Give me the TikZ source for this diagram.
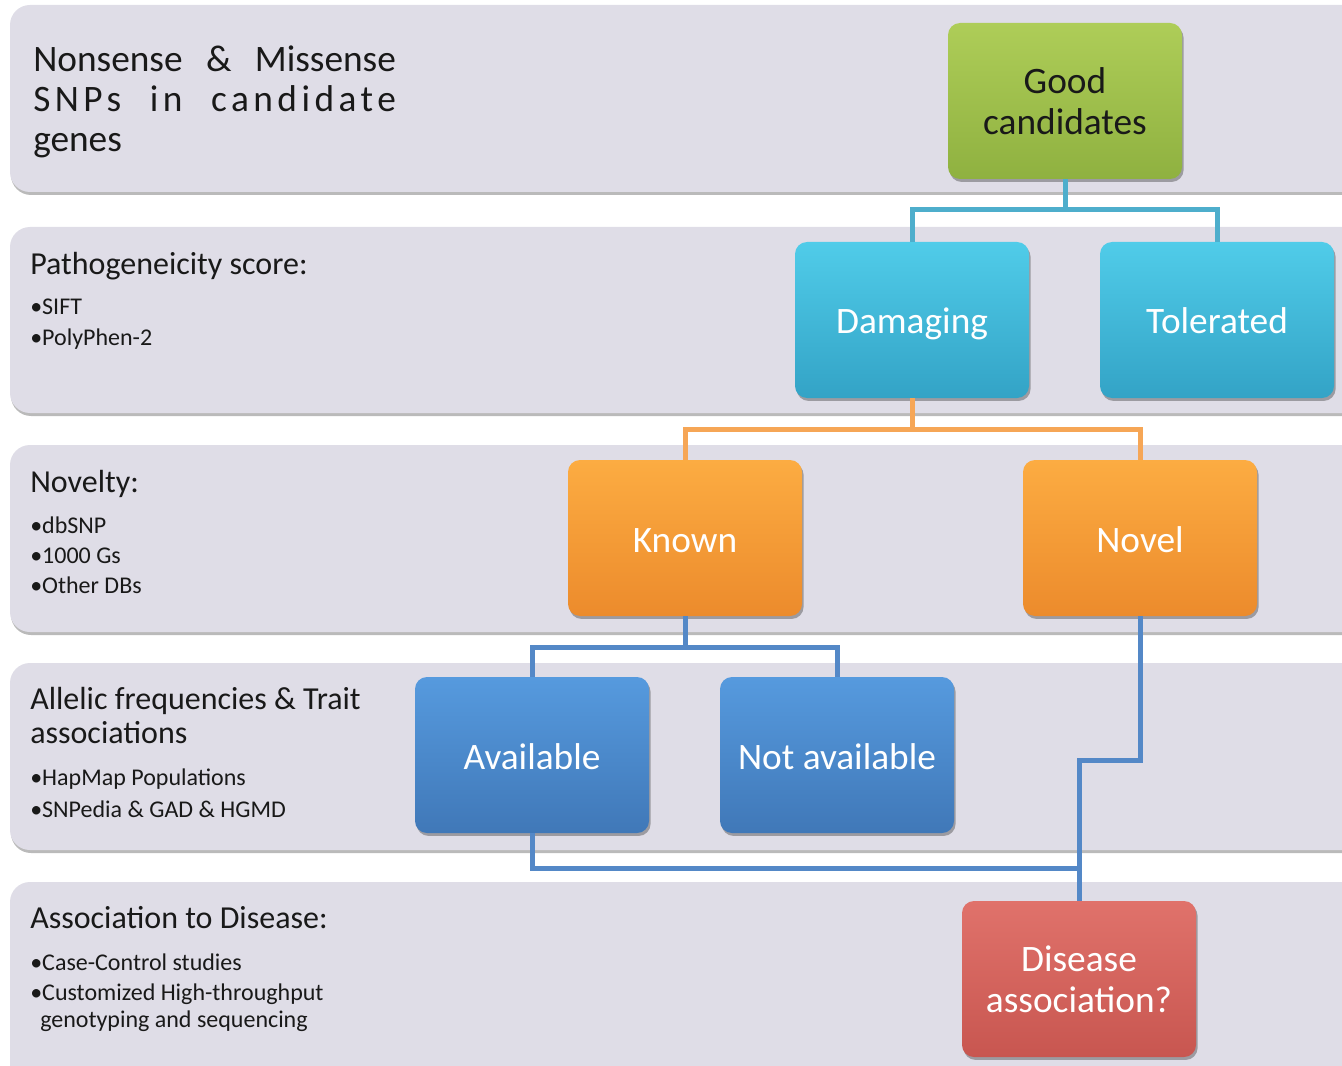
\documentclass[tikz,border=0pt]{standalone}
\usepackage{fontspec}
\setmainfont{Carlito}
\usetikzlibrary{shadows}

\definecolor{bandgray}{RGB}{223,221,231}
\definecolor{linecyan}{RGB}{78,174,204}
\definecolor{lineorange}{RGB}{246,166,86}
\definecolor{lineblue}{RGB}{84,136,199}

\begin{document}
\begin{tikzpicture}[x=0.75pt,y=0.75pt,yscale=-1,xscale=1,
    band/.style={fill=bandgray,rounded corners=15pt},
    bandshadow/.style={fill=black!45,opacity=0.6,rounded corners=15pt},
    box/.style={rounded corners=9pt,minimum width=175.5pt,minimum height=117pt,inner sep=0pt,
      align=center,text=white,font=\fontsize{28}{30.5}\selectfont,
      drop shadow={shadow xshift=1.2pt,shadow yshift=-2.2pt,opacity=0.45,fill=black!70}},
    onebox/.style={box,text height=25pt,text depth=4pt},
    title/.style={anchor=base west,inner sep=0pt,text=black!90,font=\fontsize{24}{26}\selectfont},
    item/.style={anchor=base west,inner sep=0pt,text=black!90,font=\fontsize{18}{20}\selectfont},
    cyanline/.style={draw=linecyan,line width=3.75pt},
    orangeline/.style={draw=lineorange,line width=3.75pt},
    blueline/.style={draw=lineblue,line width=3.75pt}]
		\useasboundingbox (0,0) rectangle (1342,1066);
		\clip (0,0) rectangle (1342,1066);
		
		%Shape: Bands
		\foreach \t/\b in {5/192,227/413,445/632,663/850,882/1090}{
			\fill[bandshadow] (11,\t+3) rectangle (1380,\b+3);
			\fill[band] (10,\t) rectangle (1380,\b);
		}
		
		% Boxes
		\node[box,text=black!90,top color={rgb,255:red,174;green,205;blue,88},bottom color={rgb,255:red,143;green,177;blue,64}] (good) at (1065,101) {Good\\candidates};
		\node[onebox,top color={rgb,255:red,80;green,204;blue,233},bottom color={rgb,255:red,51;green,163;blue,198}] (dam) at (912,320) {Damaging};
		\node[onebox,top color={rgb,255:red,80;green,204;blue,233},bottom color={rgb,255:red,51;green,163;blue,198}] (tol) at (1217,320) {Tolerated};
		\node[onebox,top color={rgb,255:red,252;green,172;blue,66},bottom color={rgb,255:red,236;green,139;blue,44}] (known) at (685,538) {Known};
		\node[onebox,top color={rgb,255:red,252;green,172;blue,66},bottom color={rgb,255:red,236;green,139;blue,44}] (novel) at (1140,538) {Novel};
		\node[onebox,top color={rgb,255:red,86;green,154;blue,222},bottom color={rgb,255:red,64;green,120;blue,184}] (avail) at (532,755) {Available};
		\node[onebox,top color={rgb,255:red,86;green,154;blue,222},bottom color={rgb,255:red,64;green,120;blue,184}] (notav) at (837,755) {Not available};
		\node[box,top color={rgb,255:red,224;green,114;blue,107},bottom color={rgb,255:red,200;green,86;blue,80}] (dis) at (1079,979) {Disease\\association?};
		
		%Straight Lines
		\draw[cyanline] (good.south) -- ++(0,30) -| (dam.north);
		\draw[cyanline] (good.south) -- ++(0,30) -| (tol.north);
		\draw[orangeline] (dam.south) -- ++(0,31) -| (known.north);
		\draw[orangeline] (dam.south) -- ++(0,31) -| (novel.north);
		\draw[blueline] (known.south) -- ++(0,31) -| (avail.north);
		\draw[blueline] (known.south) -- ++(0,31) -| (notav.north);
		\draw[blueline] (novel.south) -- ++(0,144) -| (dis.north);
		\draw[blueline] (avail.south) -- ++(0,35) -| (dis.north);
		
		% Text Node
		\node[title,font=\fontsize{28}{30}\selectfont] (nons) at (33,72) {\makebox[272pt][s]{Nonsense \& Missense}};
		\node[title,font=\fontsize{28}{30}\selectfont] (snps) at (33,112) {\makebox[272pt][s]{\addfontfeatures{LetterSpace=12}SNPs in candidate}};
		\node[title,font=\fontsize{28}{30}\selectfont] (genes) at (33,152) {genes};
		% Text Node
		\node[title] (path) at (30,275) {Pathogeneicity score:};
		\node[item] (sift) at (30,315) {\textbullet SIFT};
		\node[item] (poly) at (30,345) {\textbullet PolyPhen-2};
		% Text Node
		\node[title] (nov) at (30,492) {Novelty:};
		\node[item] (dbsnp) at (30,533) {\textbullet dbSNP};
		\node[item] (kg) at (30,563) {\textbullet 1000 Gs};
		\node[item] (odb) at (30,593) {\textbullet Other DBs};
		% Text Node
		\node[title] (alle) at (30,709) {Allelic frequencies \& Trait};
		\node[title] (assoc) at (30,743) {associations};
		\node[item] (hap) at (30,785) {\textbullet HapMap Populations};
		\node[item] (snped) at (30,817) {\textbullet SNPedia \& GAD \& HGMD};
		% Text Node
		\node[title] (adis) at (30,928) {Association to Disease:};
		\node[item] (cc) at (30,970) {\textbullet Case-Control studies};
		\node[item] (cust) at (30,1000) {\textbullet Customized High-throughput};
		\node[item] (geno) at (40,1027) {genotyping and sequencing};
\end{tikzpicture}
\end{document}
